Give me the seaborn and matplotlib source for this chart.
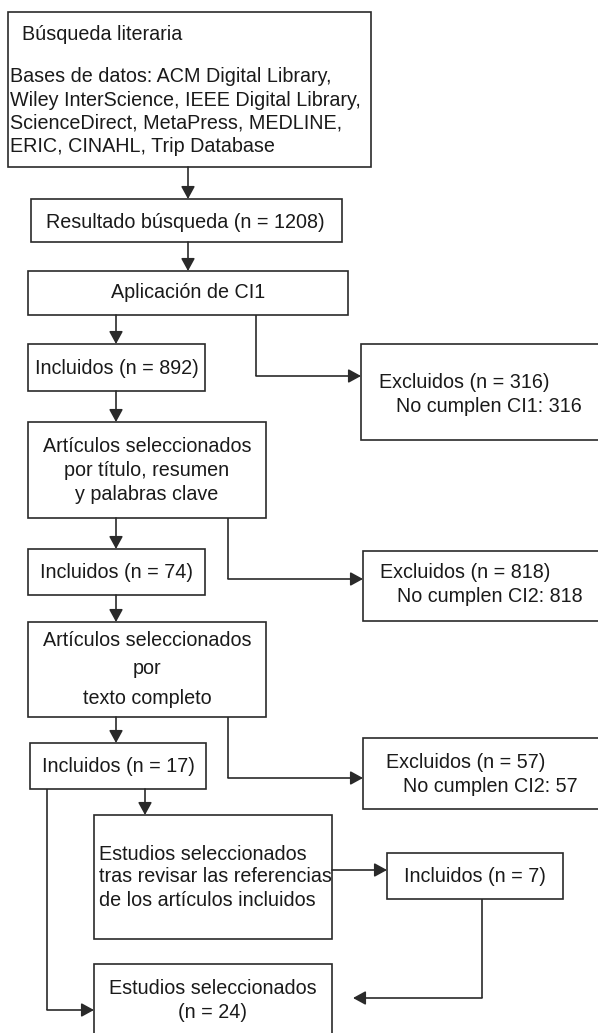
"""Flow diagram of the literature search and selection process."""

import matplotlib

matplotlib.use("Agg")
import matplotlib.pyplot as plt
import seaborn as sns
from matplotlib.patches import Rectangle


# Values
TOTAL_FOUND = 1208
INCLUDED_COUNTS = [892, 74, 17]
EXCLUDED_COUNTS = [316, 818, 57]
EXCLUDED_CRITERIA = ["CI1", "CI2", "CI2"]
REFERENCE_INCLUDED = 7
FINAL_COUNT = 24
DATABASE_LINES = [
    "Bases de datos: ACM Digital Library,",
    "Wiley InterScience, IEEE Digital Library,",
    "ScienceDirect, MetaPress, MEDLINE,",
    "ERIC, CINAHL, Trip Database",
]

LINE_COLOR = "#2a2a2a"
TEXT_COLOR = "#1a1a1a"
FONT_SIZE = 14.2
WIDTH, HEIGHT = 598, 1033

# Box layout in pixel coordinates: (left, top, right, bottom)
BOXES = [
    (8, 12, 371, 167),
    (31, 199, 342, 242),
    (28, 271, 348, 315),
    (28, 344, 205, 391),
    (361, 344, 610, 440),
    (28, 422, 266, 518),
    (28, 549, 205, 595),
    (363, 551, 610, 621),
    (28, 622, 266, 717),
    (30, 743, 206, 789),
    (363, 738, 610, 809),
    (94, 815, 332, 939),
    (387, 853, 563, 899),
    (94, 964, 332, 1060),
]

# Connectors: polyline points, the last segment ends with an arrow head
CONNECTORS = [
    [(188, 167), (188, 199)],
    [(188, 242), (188, 271)],
    [(116, 315), (116, 344)],
    [(256, 315), (256, 376), (361, 376)],
    [(116, 391), (116, 422)],
    [(116, 518), (116, 549)],
    [(228, 518), (228, 579), (363, 579)],
    [(116, 595), (116, 622)],
    [(116, 717), (116, 743)],
    [(228, 717), (228, 778), (363, 778)],
    [(145, 789), (145, 815)],
    [(47, 789), (47, 1010), (94, 1010)],
    [(332, 870), (387, 870)],
    [(482, 899), (482, 998), (353, 998)],
]


def build_texts() -> list[tuple[float, float, str, str]]:
    """Return (x, y, text, alignment) entries for every label."""
    texts = [(22, 35, "Búsqueda literaria", "left")]
    for y, line in zip([77, 100, 123, 146], DATABASE_LINES):
        texts.append((10, y, line, "left"))
    texts.append((185, 222, f"Resultado búsqueda (n = {TOTAL_FOUND})", "center"))
    texts.append((188, 293, "Aplicación de CI1", "center"))

    included_pos = [(116.5, 368), (116.5, 573), (118, 766)]
    for (x, y), n in zip(included_pos, INCLUDED_COUNTS):
        texts.append((x, y, f"Incluidos (n = {n})", "center"))

    excluded_pos = [(379, 382), (380, 573), (386, 763)]
    for (x, y), n, crit in zip(excluded_pos, EXCLUDED_COUNTS, EXCLUDED_CRITERIA):
        texts.append((x, y, f"Excluidos (n = {n})", "left"))
        texts.append((x + 17, y + 24, f"No cumplen {crit}: {n}", "left"))

    for y, line in zip([447, 471, 495], ["Artículos seleccionados",
                                         "por título, resumen",
                                         "y palabras clave"]):
        texts.append((147, y, line, "center"))
    for y, line in zip([641, 669, 698], ["Artículos seleccionados",
                                         "por", "texto completo"]):
        texts.append((147, y, line, "center"))
    for y, line in zip([854, 877, 901], ["Estudios seleccionados",
                                         "tras revisar las referencias",
                                         "de los artículos incluidos"]):
        texts.append((99, y, line, "left"))
    texts.append((475, 877, f"Incluidos (n = {REFERENCE_INCLUDED})", "center"))
    texts.append((213, 988, "Estudios seleccionados", "center"))
    texts.append((213, 1013, f"(n = {FINAL_COUNT})", "center"))
    return texts


def draw_flowchart() -> None:
    """Draw the selection flow diagram and save it."""
    sns.set_style("white")
    plt.rcParams["font.family"] = ["Liberation Sans", "DejaVu Sans"]

    fig = plt.figure(figsize=(WIDTH / 100, HEIGHT / 100), dpi=100)
    ax = fig.add_axes([0, 0, 1, 1])
    ax.set_xlim(0, WIDTH)
    ax.set_ylim(HEIGHT, 0)
    ax.set_axis_off()

    for left, top, right, bottom in BOXES:
        ax.add_patch(
            Rectangle(
                (left, top),
                right - left,
                bottom - top,
                facecolor="white",
                edgecolor=LINE_COLOR,
                linewidth=1.2,
            )
        )

    for points in CONNECTORS:
        xs = [p[0] for p in points]
        ys = [p[1] for p in points]
        if len(points) > 2:
            ax.plot(xs[:-1], ys[:-1], color=LINE_COLOR, linewidth=1.2,
                    solid_capstyle="butt")
        ax.annotate(
            "",
            xy=points[-1],
            xytext=points[-2],
            arrowprops=dict(
                arrowstyle="-|>,head_length=0.42,head_width=0.23",
                mutation_scale=18,
                color=LINE_COLOR,
                linewidth=1.2,
                shrinkA=0,
                shrinkB=0,
            ),
        )

    for x, y, label, align in build_texts():
        ax.text(x, y, label, ha=align, va="center", fontsize=FONT_SIZE,
                color=TEXT_COLOR)

    fig.savefig("out.png", dpi=100)
    plt.close(fig)


def main() -> None:
    """Run the drawing."""
    draw_flowchart()


if __name__ == "__main__":
    main()
